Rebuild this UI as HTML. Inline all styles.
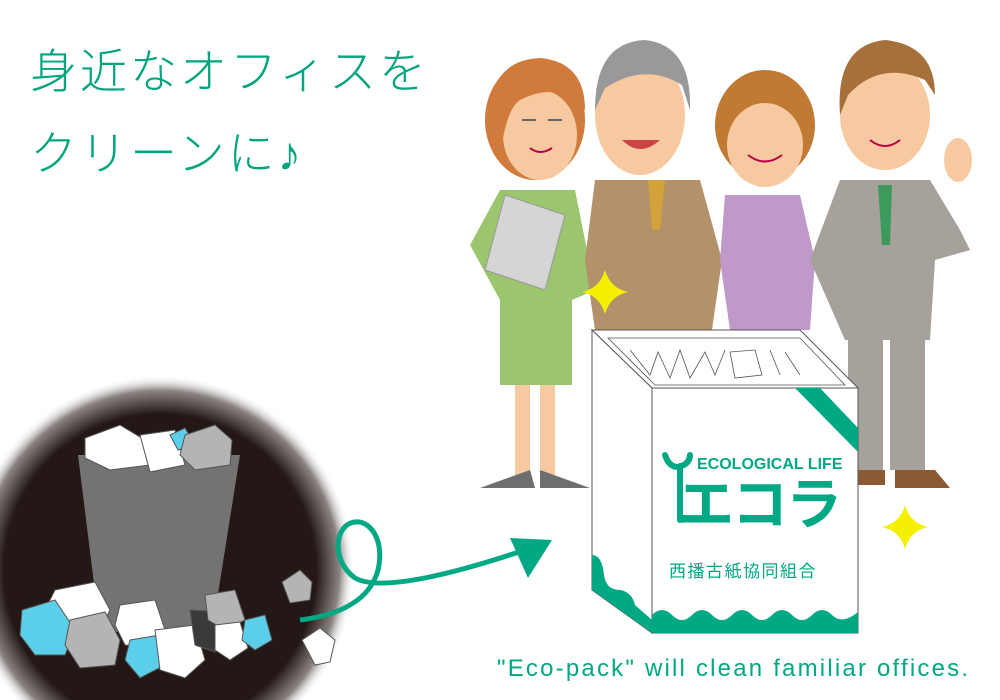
<!DOCTYPE html>
<html><head><meta charset="utf-8"><style>
html,body{margin:0;padding:0;background:#fff;width:1000px;height:700px;overflow:hidden}
svg{display:block}
</style></head><body>
<svg width="1000" height="700" viewBox="0 0 1000 700" xmlns="http://www.w3.org/2000/svg">
<defs>
<radialGradient id="dk" cx="160" cy="570" r="195" gradientUnits="userSpaceOnUse">
<stop offset="0" stop-color="#231815"/><stop offset="0.8" stop-color="#231815"/><stop offset="0.92" stop-color="#8a8382"/><stop offset="1" stop-color="#fff" stop-opacity="0"/>
</radialGradient>
</defs>
<text x="30" y="88" font-family="Liberation Sans, Noto Sans CJK JP, sans-serif" font-size="47" fill="#00a57e" font-weight="300" letter-spacing="3">身近なオフィスを</text>
<text x="30" y="170" font-family="Liberation Sans, Noto Sans CJK JP, sans-serif" font-size="47" fill="#00a57e" font-weight="300" letter-spacing="3">クリーンに♪</text>

<circle cx="160" cy="570" r="195" fill="url(#dk)"/>
<!-- bin -->
<polygon points="78,455 240,455 212,632 100,632" fill="#737373"/>
<g stroke="#555" stroke-width="1">
<polygon points="85,438 120,425 145,440 150,465 110,470 85,458" fill="#fff"/>
<polygon points="140,435 175,430 185,465 150,472" fill="#fff"/>
<polygon points="170,435 185,428 195,445 178,450" fill="#5bcfe9"/>
<polygon points="185,435 215,425 232,440 230,465 195,470 180,455" fill="#b4b4b4"/>
<polygon points="55,590 95,582 110,610 95,640 60,645 40,620" fill="#fff"/>
<polygon points="22,610 55,600 75,630 65,655 35,655 20,635" fill="#5bcfe9"/>
<polygon points="70,620 105,612 120,640 115,665 80,668 65,645" fill="#b4b4b4"/>
<polygon points="120,605 155,600 165,630 150,648 125,645 115,625" fill="#fff"/>
<polygon points="130,640 160,635 165,665 140,678 125,660" fill="#5bcfe9"/>
<polygon points="155,630 195,625 205,660 185,678 160,670" fill="#fff"/>
<polygon points="190,610 225,612 232,635 215,652 195,645" fill="#3a3a3a"/>
<polygon points="205,595 235,590 245,620 225,630 208,620" fill="#b4b4b4"/>
<polygon points="215,625 240,622 248,648 230,660 215,650" fill="#fff"/>
<polygon points="245,620 265,615 272,640 255,650 242,640" fill="#5bcfe9"/>
<polygon points="282,582 300,570 312,582 310,600 290,603" fill="#b4b4b4"/>
<polygon points="302,640 320,628 335,640 330,662 315,665" fill="#fff"/>
</g>
<!-- arrow -->
<path d="M300,620 C340,615 370,600 378,570 C385,540 370,520 355,522 C335,524 330,560 355,578 C380,592 450,575 525,550" fill="none" stroke="#00a884" stroke-width="5"/>
<polygon points="552,540 510,538 528,578" fill="#00a884"/>

<!-- woman 1 -->
<ellipse cx="535" cy="120" rx="50" ry="60" fill="#d07a3c"/>
<ellipse cx="540" cy="135" rx="37" ry="45" fill="#f6c9a0"/>
<path d="M488,120 Q490,60 540,58 Q585,62 585,110 Q560,80 520,100 Q505,110 500,160 Z" fill="#d07a3c"/>
<path d="M522,120 h14 M548,120 h14" stroke="#666" stroke-width="2"/>
<path d="M530,148 Q540,156 552,148" stroke="#b04" stroke-width="2" fill="none"/>
<polygon points="500,190 575,190 595,290 572,300 500,300 470,245" fill="#9cc66e"/>
<rect x="500" y="300" width="72" height="85" fill="#9cc66e"/>
<rect x="515" y="385" width="15" height="90" fill="#f6c9a0"/><rect x="540" y="385" width="15" height="90" fill="#f6c9a0"/>
<path d="M480,488 L530,470 L535,488 Z" fill="#6e6e6e"/><path d="M540,470 L590,488 L540,488 Z" fill="#6e6e6e"/>
<polygon points="505,195 565,215 545,290 485,270" fill="#d5d5d5" stroke="#999"/>
<!-- old man -->
<ellipse cx="640" cy="115" rx="45" ry="60" fill="#f6c9a0"/>
<path d="M595,110 Q595,42 645,40 Q692,45 690,110 L682,85 Q645,62 605,88 Z" fill="#999"/>
<path d="M622,140 Q640,158 660,140 Z" fill="#c44"/>
<polygon points="595,180 700,180 722,260 712,330 595,330 585,260" fill="#b3916a"/>
<polygon points="648,180 665,180 660,230 652,230" fill="#d4a23a"/>
<!-- woman 2 -->
<ellipse cx="765" cy="125" rx="50" ry="55" fill="#c07a33"/>
<ellipse cx="765" cy="145" rx="38" ry="42" fill="#f6c9a0"/>
<path d="M748,155 Q765,168 782,155" stroke="#b04" stroke-width="2" fill="none"/>
<polygon points="725,195 800,195 815,260 810,330 730,330 720,260" fill="#bf99c9"/>
<!-- man right -->
<ellipse cx="885" cy="115" rx="45" ry="55" fill="#f6c9a0"/>
<path d="M840,115 Q835,45 885,40 Q935,45 935,95 L925,80 Q880,60 848,95 Z" fill="#a5703a"/>
<path d="M870,140 Q885,152 900,140" stroke="#b04" stroke-width="2" fill="none"/>
<polygon points="840,180 930,180 960,230 970,250 935,260 930,340 845,340 810,260" fill="#a7a19b"/>
<polygon points="878,185 892,185 890,245 882,245" fill="#3d9a5d"/>
<rect x="848" y="340" width="35" height="130" fill="#a7a19b"/><rect x="890" y="340" width="35" height="130" fill="#a7a19b"/>
<path d="M850,470 L885,470 L885,485 L845,485 Z" fill="#8a5a33"/><path d="M895,470 L935,470 L950,488 L895,488 Z" fill="#8a5a33"/>
<ellipse cx="958" cy="160" rx="14" ry="22" fill="#f6c9a0"/>

<!-- sparkles -->
<path d="M605,270 Q610,288 628,292 Q610,296 605,314 Q600,296 582,292 Q600,288 605,270Z" fill="#f5f000"/>
<path d="M905,505 Q910,523 928,527 Q910,531 905,549 Q900,531 882,527 Q900,523 905,505Z" fill="#f5f000"/>

<!-- box -->
<polygon points="592,330 800,330 858,388 652,388" fill="#fff" stroke="#555" stroke-width="1"/>
<polygon points="592,330 652,388 652,633 592,590" fill="#fff" stroke="#555" stroke-width="1"/>
<rect x="652" y="388" width="206" height="245" fill="#fff" stroke="#555" stroke-width="1"/>
<polygon points="608,338 800,338 845,385 655,385" fill="#fff" stroke="#555" stroke-width="0.8"/>
<path d="M630,350 L650,375 L658,352 L670,378 L680,350 L690,378 L705,352 L715,375 L725,350 M730,352 L755,350 L762,375 L735,378 Z M770,350 L780,375 M785,352 L800,375" fill="none" stroke="#555" stroke-width="0.8"/>
<polygon points="795,388 820,388 858,428 858,452" fill="#00a884"/>
<path d="M652,633 L652,615 Q662,605 672,615 Q682,625 692,615 Q702,605 712,615 Q722,625 732,615 Q742,605 752,615 Q762,625 772,615 Q782,605 792,615 Q802,625 812,615 Q822,605 832,615 Q842,625 858,612 L858,633 Z" fill="#00a884"/>
<path d="M592,555 Q602,555 604,575 Q606,590 620,590 Q632,592 635,605 L652,620 L652,633 L592,590 Z" fill="#00a884"/>
<text x="697" y="469" font-family="Liberation Sans, sans-serif" font-size="16" font-weight="bold" fill="#00a884">ECOLOGICAL LIFE</text>
<text x="678" y="524" font-family="Liberation Sans, Noto Sans CJK JP, sans-serif" font-size="56" font-weight="bold" fill="#00a884" letter-spacing="-2">エコラ</text>
<path d="M665,455 Q670,470 682,466 Q690,462 690,455" fill="none" stroke="#00a884" stroke-width="6" stroke-linecap="round"/>
<path d="M680,466 L680,520" stroke="#00a884" stroke-width="6" stroke-linecap="round"/>
<text x="669" y="577" font-family="Liberation Sans, Noto Sans CJK JP, sans-serif" font-size="17" fill="#00a884" letter-spacing="1.5">西播古紙協同組合</text>
<text x="497" y="676" font-family="Liberation Sans, sans-serif" font-size="24" fill="#00a884" letter-spacing="2.2">"Eco-pack" will clean familiar offices.</text>
</svg>
</body></html>
